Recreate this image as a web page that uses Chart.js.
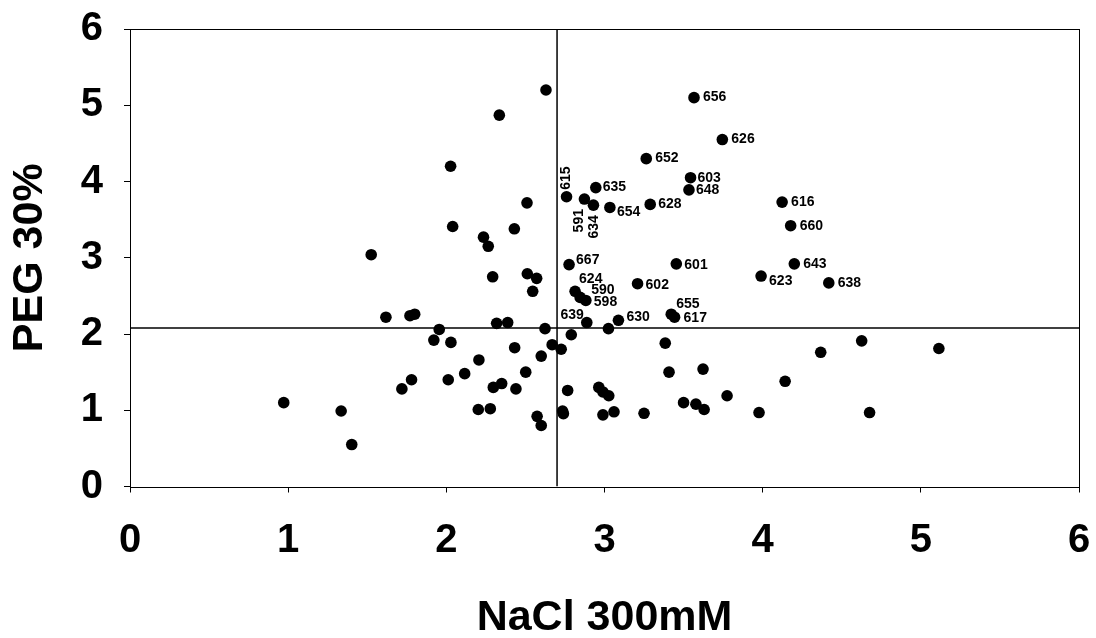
<!DOCTYPE html>
<html>
<head>
<meta charset="utf-8">
<script src="https://cdn.jsdelivr.net/npm/chart.js@4/dist/chart.umd.min.js"></script>
<style>
 body{margin:0;background:#fff}
 #wrap{width:1096px;height:638px}
</style>
</head>
<body>
<div id="wrap"><canvas id="c" width="1096" height="638"></canvas></div>
<script>
// NaCl 300mM (x) vs PEG 30% (y), one dot per line
const naclX=[3.566,3.745,3.264,3.544,3.534,2.945,2.76,2.873,2.93,3.034,3.289,4.123,4.177,
 2.776,3.454,4.20,3.99,4.418,3.209,2.814,2.846,2.882,2.888,3.088,3.422,3.443,
 2.63,2.335,2.027,2.51,2.04,2.235,2.265,2.43,1.525,2.293,2.512,2.571,2.546,
 1.618,1.77,1.80,2.318,2.388,2.624,1.955,1.921,2.029,2.79,2.669,2.726,2.432,
 2.60,2.206,2.502,2.116,1.78,2.012,1.719,2.297,2.35,2.44,2.767,2.964,2.99,3.027,
 0.972,1.335,1.402,2.202,2.278,2.574,2.60,2.735,2.74,2.99,3.06,3.25,
 3.025,3.384,3.408,3.623,4.367,4.626,5.114,4.142,3.775,3.50,3.578,3.63,3.977,4.676];
const pegY=[5.10,4.55,4.30,4.05,3.89,3.92,3.80,3.77,3.69,3.66,3.70,3.73,3.42,
 2.91,2.92,2.92,2.76,2.67,2.66,2.56,2.48,2.44,2.15,2.18,2.26,2.22,
 5.20,4.87,4.20,3.72,3.41,3.27,3.15,3.38,3.04,2.75,2.79,2.73,2.56,
 2.22,2.24,2.26,2.14,2.15,2.07,2.06,1.92,1.89,1.99,1.86,1.80,1.82,
 1.71,1.66,1.50,1.48,1.40,1.40,1.28,1.30,1.35,1.28,1.26,1.30,1.24,1.19,
 1.10,0.99,0.55,1.01,1.02,0.92,0.80,0.99,0.955,0.94,0.98,0.96,
 2.07,1.88,1.50,1.54,1.76,1.91,1.81,1.38,1.19,1.10,1.08,1.01,0.97,0.97];
const lineIds=['656','626','652','603','648','635','615','591','634','654','628','616','660',
 '667','601','643','623','638','602','624','590','598','639','630','655','617'];
const cutNaCl=2.70, cutPEG=2.08;
const xTicks=[0,1,2,3,4,5,6], yTicks=[0,1,2,3,4,5,6];

// label placement: dx, dy, align, rotated
const LP={
 '656':[9,0,'left'],'626':[9,0,'left'],'652':[9,0,'left'],'603':[7,0,'left'],'648':[7,0,'left'],
 '635':[7,0,'left'],'654':[7,5,'left'],'628':[8,0,'left'],'616':[9,0,'left'],'660':[9,0,'left'],
 '643':[9,0,'left'],'623':[8,5,'left'],'638':[9,0,'left'],'601':[8,1,'left'],'602':[8,1,'left'],
 '667':[7,-4,'left'],'624':[4,-12,'left'],'590':[11,-7,'left'],'598':[8,2,'left'],
 '639':[-3,-7,'right'],'630':[8,-3,'left'],'655':[5,-10,'left'],'617':[9,1,'left'],
 '615':[0,-7,'left',1],'591':[-5,10,'right',1],'634':[1,10,'right',1]
};
const F='"Liberation Sans", Arial, sans-serif';
const pts=naclX.map(function(x,i){return{x:x,y:pegY[i]}});

const labelsPlug={id:'lbl',afterDatasetsDraw:function(ch){
 var m=ch.getDatasetMeta(0),c=ch.ctx;
 c.save();c.fillStyle='#000';c.font='bold 14px '+F;c.textBaseline='middle';
 m.data.forEach(function(el,i){
  var id=lineIds[i];if(!id)return;
  var p=LP[id]||[8,0,'left'];
  c.save();c.translate(el.x+p[0],el.y+p[1]);
  if(p[3])c.rotate(-Math.PI/2);
  c.textAlign=p[2];c.fillText(id,0,0);c.restore();
 });
 c.restore();
}};
const frame={id:'frame',afterDraw:function(ch){
 var a=ch.chartArea,c=ch.ctx;c.save();c.strokeStyle='#000';c.lineWidth=1;
 c.strokeRect(Math.round(a.left)+0.5,Math.round(a.top)+0.5,Math.round(a.right-a.left),Math.round(a.bottom-a.top));
 c.restore();
}};
function noPad(s){s.paddingTop=0;s.paddingBottom=0;s.paddingLeft=0;s.paddingRight=0}

new Chart(document.getElementById('c'),{
 type:'scatter',
 data:{datasets:[
  {data:pts,backgroundColor:'#000',borderWidth:0,pointRadius:5.8,pointHoverRadius:5.8,order:0},
  {data:[{x:cutNaCl,y:yTicks[0]},{x:cutNaCl,y:yTicks[yTicks.length-1]}],showLine:true,borderColor:'#000',borderWidth:1.5,pointRadius:0,order:1},
  {data:[{x:xTicks[0],y:cutPEG},{x:xTicks[xTicks.length-1],y:cutPEG}],showLine:true,borderColor:'#000',borderWidth:1.5,pointRadius:0,order:1}
 ]},
 options:{responsive:false,animation:false,devicePixelRatio:1,
  layout:{padding:{top:29,right:17,left:0,bottom:0}},
  plugins:{legend:{display:false},tooltip:{enabled:false}},
  scales:{
   x:{type:'linear',min:0,max:6,
    afterBuildTicks:function(s){s.ticks=xTicks.map(function(v){return{value:v}})},
    afterFit:function(s){s.height=151.5;noPad(s)},
    grid:{drawOnChartArea:false,drawTicks:true,tickLength:6,color:'#000'},
    border:{display:false},
    ticks:{color:'#000',padding:24,font:{family:F,size:40,weight:'bold',lineHeight:1.2},maxRotation:0},
    title:{display:true,text:'NaCl 300mM',color:'#000',padding:{top:0,bottom:0},font:{family:F,size:43,weight:'bold',lineHeight:0.93}}},
   y:{type:'linear',min:0,max:6,
    afterBuildTicks:function(s){s.ticks=yTicks.map(function(v){return{value:v}})},
    afterFit:function(s){s.width=130;noPad(s)},
    grid:{drawOnChartArea:false,drawTicks:true,tickLength:6,color:'#000'},
    border:{display:false},
    ticks:{color:'#000',padding:21,font:{family:F,size:40,weight:'bold',lineHeight:1.2}},
    title:{display:true,text:'PEG 30%',color:'#000',padding:{top:8.5,bottom:0},font:{family:F,size:43,weight:'bold',lineHeight:1}}}
  }
 },
 plugins:[labelsPlug,frame]
});
</script>
</body>
</html>
